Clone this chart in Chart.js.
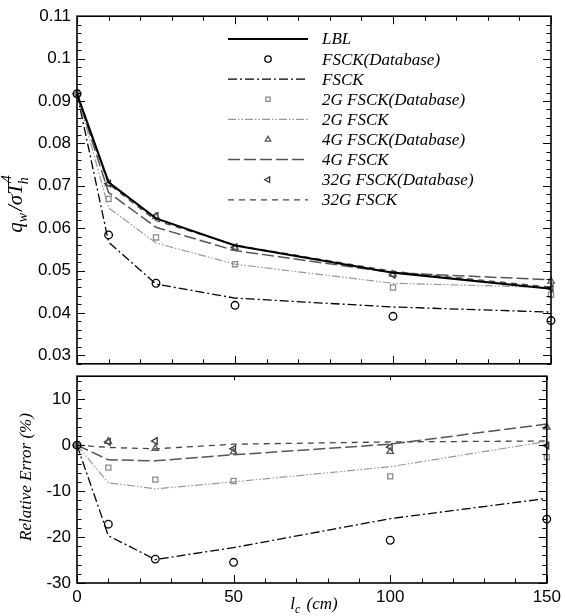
<!DOCTYPE html>
<html><head><meta charset="utf-8">
<script src="https://cdn.jsdelivr.net/npm/chart.js@4.4.1/dist/chart.umd.min.js"></script>
<style>
html,body{margin:0;padding:0;background:#fff;width:565px;height:616px;overflow:hidden}
#w1{position:absolute;left:0;top:0;width:565px;height:380px}
#w2{position:absolute;left:0;top:360px;width:565px;height:256px}
</style></head><body>
<div id="w1"><canvas id="c1"></canvas></div>
<div id="w2"><canvas id="c2"></canvas></div>
<script>
// ---- data ----
const lc = [0, 10, 25, 50, 100, 150];
const seriesLabels = ['LBL','FSCK(Database)','FSCK','2G FSCK(Database)','2G FSCK','4G FSCK(Database)','4G FSCK','32G FSCK(Database)','32G FSCK'];
const qLBL     = [0.0917, 0.0708, 0.0623, 0.0559, 0.0495, 0.0457];
const qFSCKdb  = [0.0917, 0.0584, 0.0470, 0.0418, 0.0392, 0.0382];
const qFSCK    = [0.0917, 0.0567, 0.0468, 0.0435, 0.0414, 0.0402];
const q2Gdb    = [0.0917, 0.0669, 0.0578, 0.0515, 0.0460, 0.0443];
const q2G      = [0.0917, 0.0648, 0.0565, 0.0515, 0.0470, 0.0460];
const q4Gdb    = [0.0917, 0.0705, 0.0627, 0.0553, 0.0491, 0.0475];
const q4G      = [0.0917, 0.0684, 0.0602, 0.0547, 0.0495, 0.0478];
const q32Gdb   = [0.0917, 0.0705, 0.0629, 0.0555, 0.0490, 0.0458];
const q32G     = [0.0917, 0.0704, 0.0618, 0.0560, 0.0498, 0.0461];

const eFSCKdb  = [0, -17.2, -24.8, -25.5, -20.7, -16.1];
const eFSCK    = [0, -19.7, -24.9, -22.3, -16.0, -11.6];
const e2Gdb    = [0, -4.9, -7.5, -7.8, -6.8, -2.6];
const e2G      = [0, -8.2, -9.5, -8.0, -4.7, 0.8];
const e4Gdb    = [0, 0.8, -0.7, -1.5, -1.4, 3.9];
const e4G      = [0, -3.2, -3.4, -2.1, 0.2, 4.6];
const e32Gdb   = [0, 0.7, 0.9, -0.8, -0.4, -0.1];
const e32G     = [0, -0.5, -0.8, 0.2, 0.7, 0.9];

const topTicks = [0.03, 0.04, 0.05, 0.06, 0.07, 0.08, 0.09, 0.1, 0.11];
const botTicks = [-30, -20, -10, 0, 10];
const xTicks = [0, 50, 100, 150];

// ---- styles ----
const SANS = '"Liberation Sans", Arial, Helvetica, sans-serif';
const SERIF = '"Liberation Serif", "Times New Roman", serif';
const pts = a => a.map((v, i) => ({x: lc[i], y: v}));
function lineDs(label, data, color, width, dash) {
  return {label, data: pts(data), showLine: true, borderColor: color, borderWidth: width, borderDash: dash,
    pointRadius: 0, pointHoverRadius: 0, fill: false, tension: 0, clip: false};
}
function markDs(label, data, color, style, radius, rot) {
  return {label, data: pts(data), showLine: false, pointStyle: style, pointRadius: radius, pointHoverRadius: radius,
    pointRotation: rot || 0, pointBorderColor: color, pointBackgroundColor: 'rgba(0,0,0,0)', pointBorderWidth: 1.3,
    borderColor: color, clip: false};
}
const S = {
  FSCKdb: ['#000', 'circle', 3.8, 0],
  FSCK: ['#000', 1.3, [9, 3, 2, 3]],
  G2db: ['#8c8c8c', 'rect', 3.6, 0],
  G2: ['#999', 1.2, [8, 2, 1.5, 2, 1.5, 2]],
  G4db: ['#555', 'triangle', 3.8, 0],
  G4: ['#555', 1.5, [12, 4]],
  G32db: ['#333', 'triangle', 3.8, -90],
  G32: ['#444', 1.3, [6, 5]]
};

const topDatasets = [
  lineDs(seriesLabels[0], qLBL, '#000', 2.1, []),
  markDs(seriesLabels[1], qFSCKdb, ...S.FSCKdb),
  lineDs(seriesLabels[2], qFSCK, ...S.FSCK),
  markDs(seriesLabels[3], q2Gdb, ...S.G2db),
  lineDs(seriesLabels[4], q2G, ...S.G2),
  markDs(seriesLabels[5], q4Gdb, ...S.G4db),
  lineDs(seriesLabels[6], q4G, ...S.G4),
  markDs(seriesLabels[7], q32Gdb, ...S.G32db),
  lineDs(seriesLabels[8], q32G, ...S.G32)
];
const botDatasets = [
  markDs(seriesLabels[1], eFSCKdb, ...S.FSCKdb),
  lineDs(seriesLabels[2], eFSCK, ...S.FSCK),
  markDs(seriesLabels[3], e2Gdb, ...S.G2db),
  lineDs(seriesLabels[4], e2G, ...S.G2),
  markDs(seriesLabels[5], e4Gdb, ...S.G4db),
  lineDs(seriesLabels[6], e4G, ...S.G4),
  markDs(seriesLabels[7], e32Gdb, ...S.G32db),
  lineDs(seriesLabels[8], e32G, ...S.G32)
];

// ---- frame + inward ticks plugin ----
function framePlugin(cfg) {
  return {
    id: 'frame' + cfg.name,
    afterDraw(chart) {
      const {ctx, chartArea: a} = chart;
      const ys = chart.scales.y, xs = chart.scales.x;
      ctx.save();
      ctx.strokeStyle = '#000';
      ctx.lineWidth = 1;
      ctx.beginPath();
      for (let k = 0; ; k++) {
        const v = cfg.yMin + k * cfg.yMinor;
        if (v > cfg.yMax + 1e-9) break;
        const isMaj = Math.abs(v / cfg.yMajor - Math.round(v / cfg.yMajor)) < 1e-6;
        const p = Math.round(ys.getPixelForValue(v)) + 0.5;
        const len = isMaj ? 8 : 4.5;
        ctx.moveTo(a.left, p); ctx.lineTo(a.left + len, p);
        ctx.moveTo(a.right, p); ctx.lineTo(a.right - len, p);
      }
      for (let v = 0; v <= 150; v += 10) {
        const isMaj = v % 50 === 0;
        const p = Math.round(xs.getPixelForValue(v)) + 0.5;
        const len = isMaj ? 8 : 4.5;
        if (cfg.topTicks === 'all' || (cfg.topTicks === 'major' && isMaj)) {
          const l = cfg.topTicks === 'major' ? 4 : len;
          ctx.moveTo(p, a.top); ctx.lineTo(p, a.top + l);
        }
        ctx.moveTo(p, a.bottom); ctx.lineTo(p, a.bottom - len);
      }
      ctx.stroke();
      ctx.lineWidth = 1.6;
      ctx.strokeRect(a.left, a.top, a.right - a.left, a.bottom - a.top);
      ctx.restore();
    }
  };
}

// ---- legend plugin (top chart) ----
const legendPlugin = {
  id: 'customLegend',
  afterDraw(chart) {
    const ctx = chart.ctx;
    ctx.save();
    chart.data.datasets.forEach((ds, i) => {
      const y = 39 + i * 20.1;
      if (ds.showLine) {
        ctx.strokeStyle = ds.borderColor;
        ctx.lineWidth = ds.borderWidth;
        ctx.setLineDash(ds.borderDash || []);
        ctx.beginPath(); ctx.moveTo(228, y); ctx.lineTo(308, y); ctx.stroke();
        ctx.setLineDash([]);
      } else {
        ctx.strokeStyle = ds.pointBorderColor;
        ctx.fillStyle = 'rgba(0,0,0,0)';
        ctx.lineWidth = ds.pointBorderWidth;
        Chart.helpers.drawPoint(ctx, {pointStyle: ds.pointStyle, rotation: ds.pointRotation, radius: ds.pointRadius - 0.6, borderWidth: ds.pointBorderWidth}, 268, y);
      }
      ctx.fillStyle = '#000';
      ctx.font = 'italic 17px ' + SERIF;
      ctx.textBaseline = 'middle';
      ctx.textAlign = 'left';
      ctx.fillText(ds.label, 322, y + 1);
    });
    ctx.restore();
  }
};

// ---- axis titles ----
const topTitlePlugin = {
  id: 'topTitle',
  afterDraw(chart) {
    const ctx = chart.ctx;
    ctx.save();
    ctx.translate(22, 204);
    ctx.rotate(-Math.PI / 2);
    ctx.fillStyle = '#000';
    ctx.textBaseline = 'alphabetic';
    ctx.textAlign = 'left';
    const big = 'italic 21px ' + SERIF, small = 'italic 14px ' + SERIF;
    const parts = [
      {t: 'q', f: big, dy: 0},
      {t: 'w', f: small, dy: 5},
      {t: '/σ', f: big, dy: 0},
      {t: 'T', f: big, dy: 0},
    ];
    let w = 0;
    parts.forEach(p => { ctx.font = p.f; p.w = ctx.measureText(p.t).width + (p.t === 'w' ? 2 : 0); w += p.w; });
    ctx.font = small; const ws = ctx.measureText('h').width + 1;
    w += ws;
    let x = -w / 2;
    parts.forEach(p => { ctx.font = p.f; ctx.fillText(p.t, x, p.dy); x += p.w; });
    ctx.font = small;
    ctx.fillText('4', x + 1, -11);
    ctx.fillText('h', x - 1, 6);
    ctx.restore();
  }
};
const botTitlePlugin = {
  id: 'botTitle',
  afterDraw(chart) {
    const ctx = chart.ctx;
    ctx.save();
    ctx.fillStyle = '#000';
    ctx.save();
    ctx.translate(31, 477 - 360);
    ctx.rotate(-Math.PI / 2);
    ctx.font = 'italic 17px ' + SERIF;
    ctx.textAlign = 'center';
    ctx.textBaseline = 'alphabetic';
    ctx.fillText('Relative Error (%)', 0, 0);
    ctx.restore();
    const big = 'italic 17px ' + SERIF, small = 'italic 12px ' + SERIF;
    ctx.textBaseline = 'alphabetic';
    ctx.textAlign = 'left';
    ctx.font = big; const w1 = ctx.measureText('l').width;
    ctx.font = small; const w2 = ctx.measureText('c').width + 2;
    ctx.font = big; const w3 = ctx.measureText(' (cm)').width;
    let x = 314 - (w1 + w2 + w3) / 2;
    const by = 609 - 360;
    ctx.font = big; ctx.fillText('l', x, by); x += w1;
    ctx.font = small; ctx.fillText('c', x, by + 4); x += w2;
    ctx.font = big; ctx.fillText(' (cm)', x, by);
    ctx.restore();
  }
};

const keepTicks = list => scale => {
  scale.ticks = list.map(v => ({value: v}));
};

Chart.defaults.font.family = SANS;
Chart.defaults.color = '#000';

const common = {
  responsive: true, maintainAspectRatio: false, animation: false, devicePixelRatio: 1,
  plugins: {legend: {display: false}, tooltip: {enabled: false}, title: {display: false}},
  events: []
};

new Chart(document.getElementById('c1'), {
  type: 'scatter',
  data: {datasets: topDatasets},
  options: Object.assign({}, common, {
    layout: {padding: {left: 0, right: 14, top: 14, bottom: 10}},
    scales: {
      x: {type: 'linear', display: false, min: 0, max: 150},
      y: {type: 'linear', min: 0.028, max: 0.11,
        grid: {display: false, drawTicks: false}, border: {display: false},
        afterBuildTicks: keepTicks(topTicks),
        afterFit: s => { s.width = 77; },
        ticks: {padding: 6, font: {size: 17, family: SANS}, color: '#000', callback: v => String(+v.toFixed(4))}
      }
    }
  }),
  plugins: [framePlugin({name: 'top', yMin: 0.028, yMax: 0.11, yMinor: 0.002, yMajor: 0.01, topTicks: 'all'}), legendPlugin, topTitlePlugin]
});

new Chart(document.getElementById('c2'), {
  type: 'scatter',
  data: {datasets: botDatasets},
  options: Object.assign({}, common, {
    layout: {padding: {left: 0, right: 14, top: 10, bottom: 0}},
    scales: {
      x: {type: 'linear', min: 0, max: 150,
        grid: {display: false, drawTicks: false}, border: {display: false},
        afterBuildTicks: keepTicks(xTicks),
        afterFit: s => { s.height = 33; },
        ticks: {padding: 4, font: {size: 17, family: SANS}, color: '#000', maxRotation: 0, autoSkip: false}
      },
      y: {type: 'linear', min: -30, max: 15,
        grid: {display: false, drawTicks: false}, border: {display: false},
        afterBuildTicks: keepTicks(botTicks),
        afterFit: s => { s.width = 77; },
        ticks: {padding: 6, font: {size: 17, family: SANS}, color: '#000'}
      }
    }
  }),
  plugins: [framePlugin({name: 'bot', yMin: -30, yMax: 15, yMinor: 2, yMajor: 10, topTicks: 'major'}), botTitlePlugin]
});
</script>
</body></html>
